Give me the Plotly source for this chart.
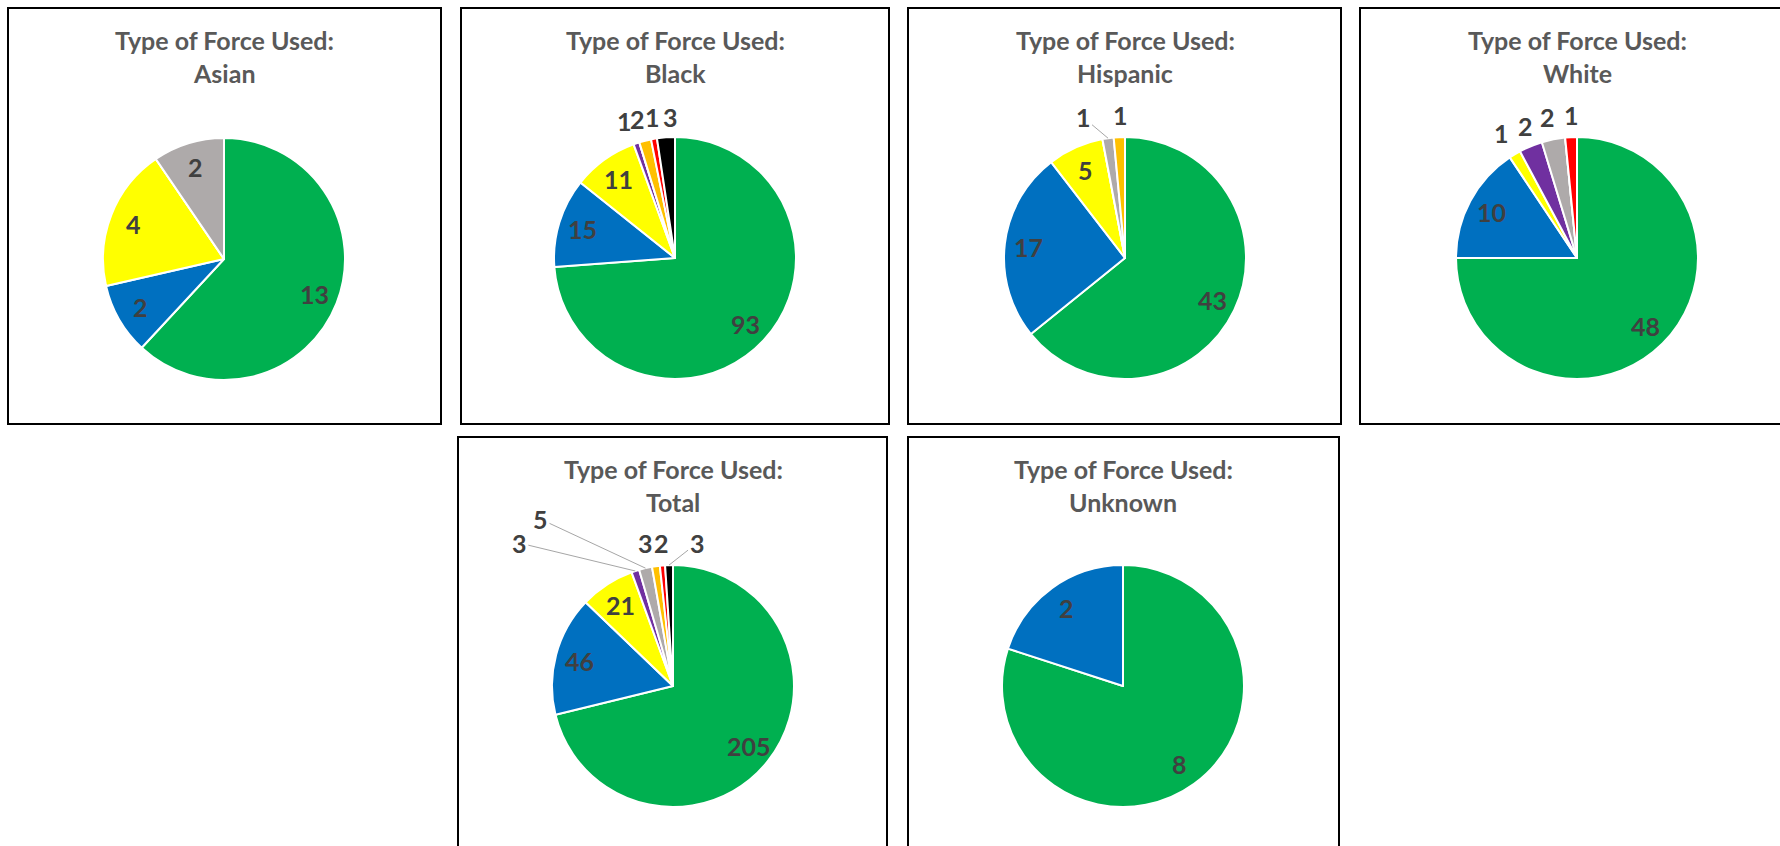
import math
import plotly.graph_objects as go

W, H = 1780, 846

# ---------------- data ----------------
categories = ["Force A", "Force B", "Force C", "Force D",
              "Force E", "Force F", "Force G", "Force H"]
colors = ["#00B050", "#0070C0", "#FFFF00", "#7030A0",
          "#AEAAAA", "#FFC000", "#FF0000", "#000000"]

panel_names = ["Asian", "Black", "Hispanic", "White", "Total", "Unknown"]
asian = [13, 2, 4, 0, 2, 0, 0, 0]
black = [93, 15, 11, 1, 0, 2, 1, 3]
hispanic = [43, 17, 5, 0, 1, 1, 0, 0]
white = [48, 10, 1, 2, 2, 0, 1, 0]
total = [205, 46, 21, 3, 5, 3, 2, 3]
unknown = [8, 2, 0, 0, 0, 0, 0, 0]
series = [asian, black, hispanic, white, total, unknown]

# ---------------- layout config ----------------
boxes = [(8, 8, 441, 424), (461, 8, 889, 424), (908, 8, 1341, 424),
         (1360, 8, 1795, 424), (458, 437, 887, 900), (908, 437, 1339, 900)]
centers = [(224, 259), (675, 258), (1125, 258), (1577, 258), (673, 686), (1123, 686)]
R = 121

outside = {
    ("Black", 3): (-12, -22, False), ("Black", 5): (-8, -22, False),
    ("Black", 6): (-1, -22, False), ("Black", 7): (5, -20, False),
    ("Hispanic", 4): (-25, -21, True), ("Hispanic", 5): (1, -22, False),
    ("White", 2): (-13, -21, False), ("White", 3): (-5, -20, False),
    ("White", 4): (-6, -22, False), ("White", 6): (0, -22, False),
    ("Total", 3): (-116, -28, True), ("Total", 4): (-105, -49, True),
    ("Total", 5): (-10, -23, False), ("Total", 6): (-1, -22, False),
    ("Total", 7): (28, -22, True),
}

TITLE_COLOR = "#595959"
LABEL_COLOR = "#404040"
FONT = "Lato"
FS = 25


def px2paper(x, y):
    return x / W, 1 - y / H


fig = go.Figure()
annotations = []
shapes = []

for name, vals, box, (cx, cy) in zip(panel_names, series, boxes, centers):
    x0, y0, x1, y1 = box
    shapes.append(dict(type="rect", xref="paper", yref="paper",
                       x0=x0 / W, x1=x1 / W, y0=1 - y1 / H, y1=1 - y0 / H,
                       line=dict(color="#000000", width=2), fillcolor="rgba(0,0,0,0)"))
    tx = cx / W
    _, ty1 = px2paper(cx, y0 + 32)
    _, ty2 = px2paper(cx, y0 + 65)
    for txt, ty in (("Type of Force Used:", ty1), (name, ty2)):
        annotations.append(dict(x=tx, y=ty, xref="paper", yref="paper",
                                text="<b>" + txt + "</b>", showarrow=False,
                                xanchor="center", yanchor="middle",
                                font=dict(family=FONT, size=FS, color=TITLE_COLOR,
                                          weight="bold")))
    fig.add_trace(go.Pie(
        labels=categories, values=vals, sort=False, direction="clockwise",
        rotation=0, marker=dict(colors=colors, line=dict(color="white", width=2)),
        textinfo="none", showlegend=False, name=name,
        domain=dict(x=[(cx - R) / W, (cx + R) / W],
                    y=[1 - (cy + R) / H, 1 - (cy - R) / H]),
    ))
    tot = sum(vals)
    cum = 0
    for i, v in enumerate(vals):
        if v <= 0:
            continue
        mid = math.radians((cum + v / 2) / tot * 360)
        cum += v
        lfont = dict(family=FONT, size=FS, color=LABEL_COLOR, weight="bold")
        if v / tot >= 0.05:
            lx = cx + 0.8 * R * math.sin(mid)
            ly = cy - 0.8 * R * math.cos(mid)
            ax_, ay_ = px2paper(lx, ly)
            annotations.append(dict(x=ax_, y=ay_, xref="paper", yref="paper",
                                    text="<b>%d</b>" % v, showarrow=False,
                                    xanchor="center", yanchor="middle", font=lfont))
        else:
            ex = cx + R * math.sin(mid)
            ey = cy - R * math.cos(mid)
            dx, dy, leader = outside.get((name, i), (0, -22, False))
            px_, py_ = px2paper(ex, ey)
            if leader:
                annotations.append(dict(x=px_, y=py_, xref="paper", yref="paper",
                                        text="<b>%d</b>" % v, showarrow=True,
                                        arrowhead=0, arrowwidth=1, arrowcolor="#A6A6A6",
                                        standoff=0, ax=dx, ay=dy, font=lfont))
            else:
                annotations.append(dict(x=px_, y=py_, xref="paper", yref="paper",
                                        text="<b>%d</b>" % v, showarrow=False,
                                        xanchor="center", yanchor="middle",
                                        xshift=dx, yshift=-dy, font=lfont))

fig.update_layout(
    width=W, height=H, margin=dict(l=0, r=0, t=0, b=0),
    paper_bgcolor="white", plot_bgcolor="white",
    annotations=annotations, shapes=shapes,
)

fig.write_html("out.html", config={"displayModeBar": False},
               post_script="document.body.style.margin='0';")
